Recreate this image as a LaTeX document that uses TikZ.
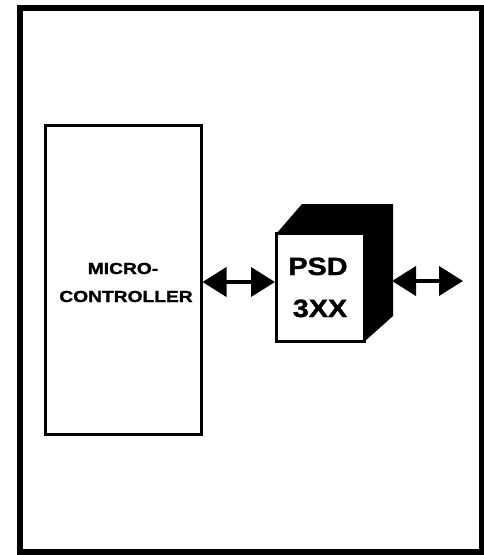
\documentclass[tikz,border=0pt]{standalone}
\usepackage{fontspec}
\setmainfont{Liberation Sans}
\newfontfamily\heavyfont{Liberation Sans Bold}[FakeBold=1.2]
\usetikzlibrary{arrows.meta}
\begin{document}
\begin{tikzpicture}[x=1pt,y=-1pt,
  frame/.style={line width=6pt},
  block/.style={draw,line width=3pt,fill=white,inner sep=0pt},
  label/.style={font=\heavyfont,inner sep=0pt,anchor=base},
  bus/.style={line width=4pt,{Triangle[length=24pt,width=29pt]}-{Triangle[length=24pt,width=29pt]}}]
  \useasboundingbox (0,0) rectangle (484,555);
  % outer frame
  \draw[frame] (19.5,8) rectangle (482,552);
  % microcontroller block
  \node[block,minimum width=156pt,minimum height=309pt] (mc) at (123,279.5) {};
  \node[label] (mc1) at (123,274) {\fontsize{16}{16}\selectfont\scalebox{1.2}[1]{MICRO-}};
  \node[label] (mc2) at (126,302) {\fontsize{16}{16}\selectfont\scalebox{1.2}[1]{CONTROLLER}};
  % PSD cube: solid back body, then the white front face
  \fill (276.5,233.5) -- (302,204) -- (393,204) -- (393,316) -- (364.5,341.5) -- cycle;
  \node[block,minimum width=88pt,minimum height=108pt] (psd) at (320.5,287.5) {};
  \node[label] (psd1) at (318,275) {\fontsize{25}{25}\selectfont\scalebox{1.15}[1]{PSD}};
  \node[label] (psd2) at (320,317) {\fontsize{25}{25}\selectfont\scalebox{1.15}[1]{3XX}};
  \coordinate (row) at (0,282);
  \coordinate (side) at (392,281);
  \coordinate (out) at (463,281);
  % bidirectional buses
  \draw[bus] (mc.east |- row) -- (psd.west |- row);
  \draw[bus] (side) -- (out);
\end{tikzpicture}
\end{document}
